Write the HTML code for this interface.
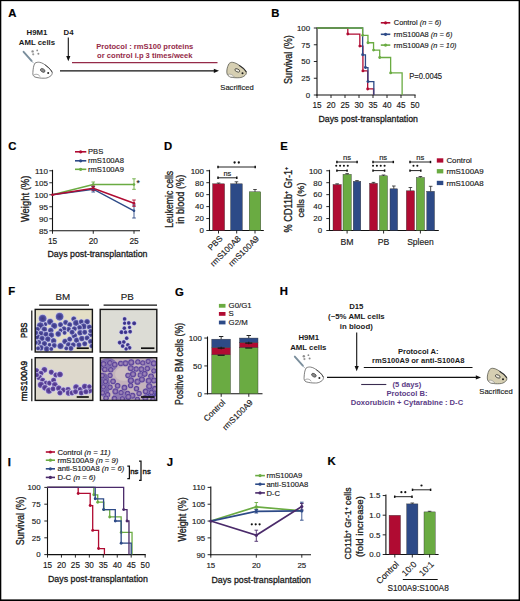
<!DOCTYPE html>
<html><head><meta charset="utf-8"><style>
html,body{margin:0;padding:0;background:#fff;}
svg{display:block;font-family:"Liberation Sans", sans-serif;}
</style></head><body>
<svg width="520" height="601" viewBox="0 0 520 601" fill="#1a1a1a">
<rect width="520" height="601" fill="#fff"/>
<text x="8.30" y="16.90" font-size="11.3" font-weight="bold" fill="#000" stroke="#000" stroke-width="0.2">A</text>
<text x="37.00" y="35.20" font-size="7.8" text-anchor="middle" font-weight="bold" fill="#1a1a1a">H9M1</text>
<text x="37.00" y="45.20" font-size="7.8" text-anchor="middle" font-weight="bold" fill="#1a1a1a">AML cells</text>
<text x="68.60" y="35.20" font-size="7.8" text-anchor="middle" font-weight="bold" fill="#1a1a1a">D4</text>
<line x1="68.30" y1="37.50" x2="68.30" y2="56.50" stroke="#111" stroke-width="1.1"/>
<path d="M68.30,61.20 L66.20,56.00 L70.40,56.00 Z" fill="#111"/>
<line x1="72.00" y1="62.60" x2="217.50" y2="62.60" stroke="#952a48" stroke-width="1.1"/>
<text x="144.80" y="49.20" font-size="7.6" text-anchor="middle" font-weight="bold" fill="#952a48">Protocol : rmS100 proteins</text>
<text x="144.80" y="57.60" font-size="7.6" text-anchor="middle" font-weight="bold" fill="#952a48">or control i.p 3 times/week</text>
<line x1="60.00" y1="70.80" x2="214.30" y2="70.80" stroke="#111" stroke-width="1.2"/>
<path d="M219.00,70.80 L213.80,68.70 L213.80,72.90 Z" fill="#111"/>
<text x="237.00" y="89.60" font-size="7.6" text-anchor="middle" fill="#1a1a1a" stroke="#1a1a1a" stroke-width="0.15">Sacrificed</text>
<g transform="translate(18,46) scale(1.0)"><line x1="5.6" y1="5.8" x2="13.6" y2="14.8" stroke="#7a8e9c" stroke-width="1.9" stroke-linecap="round"/><line x1="13.2" y1="14.6" x2="15.6" y2="17.2" stroke="#8a98a4" stroke-width="0.7"/><circle cx="14.6" cy="5.4" r="1.2" fill="#8e8e8e"/><circle cx="19.2" cy="4.4" r="0.9" fill="#8a8a8a"/><circle cx="20.4" cy="7.7" r="1.0" fill="#8a8a8a"/><circle cx="15.2" cy="8.3" r="1.1" fill="#9a9a9a"/><path d="M16.9,17.2 C18.5,16.2 20,16.1 21.5,16.3 C24.5,16.8 27,18.5 29,20.7 C31.5,22.5 33.6,24.5 34.2,26.4 C34.5,28 33.4,29.8 31.9,30.5 C30,31.8 28,32.3 26.2,32.2 C23,32.3 19.5,31.8 16.9,31 C15.2,30.2 14.6,28.5 14.9,26.4 C15.1,23 15.5,19.5 16.9,17.2 Z" fill="#fff" stroke="#555" stroke-width="0.75"/><path d="M27,18.9 C29.5,20.3 32.5,22.8 34.2,26.4" fill="none" stroke="#444" stroke-width="0.9"/><path d="M16,29 C18,27.5 21,28.5 22,30.5" fill="none" stroke="#666" stroke-width="0.6"/><ellipse cx="24.7" cy="24.4" rx="2.5" ry="1.6" transform="rotate(30 24.7 24.4)" fill="#8a8a8a" stroke="#444" stroke-width="0.7"/><circle cx="30.2" cy="27.1" r="1.0" fill="#222"/></g>
<g transform="translate(222,58)"><path d="M6.9,5.8 C8,4.5 9.5,4.2 10.4,4.3 C13.5,4.6 16.5,6.5 19,8.7 C21.5,10.5 23.5,12 24.3,13.9 C24.6,15.3 24,16.6 23.1,17.3 C21.5,18.8 19.5,19.6 17.3,19.7 C14.5,19.9 11,19.7 8.7,19.1 C6.5,18.5 5.2,17 4.9,15 C4.6,12.5 5,9.5 6.9,5.8 Z" fill="#d6cfb2" stroke="#5a5a50" stroke-width="0.8"/><path d="M6,16.5 C8,15.5 11,16.5 12.5,19.3 L8.7,19.1 C7,18.6 6.3,17.6 6,16.5 Z" fill="#f2efe6" stroke="#777" stroke-width="0.5"/><path d="M17,7.2 C19.5,8.6 22.5,11 24.3,13.9" fill="none" stroke="#333" stroke-width="1.1"/><ellipse cx="15.3" cy="12.4" rx="2.6" ry="1.4" transform="rotate(25 15.3 12.4)" fill="#f3efe3" stroke="#3a3a34" stroke-width="0.8"/><circle cx="20.5" cy="15.3" r="1.0" fill="#1a1a1a"/></g>
<text x="271.30" y="16.90" font-size="11.3" font-weight="bold" fill="#000" stroke="#000" stroke-width="0.2">B</text>
<line x1="317.00" y1="27.40" x2="317.00" y2="95.50" stroke="#111" stroke-width="1.1"/>
<line x1="316.50" y1="95.00" x2="415.60" y2="95.00" stroke="#111" stroke-width="1.1"/>
<line x1="313.80" y1="95.00" x2="317.00" y2="95.00" stroke="#111" stroke-width="0.9"/>
<text x="310.10" y="97.80" font-size="7.9" text-anchor="end" fill="#1a1a1a" stroke="#1a1a1a" stroke-width="0.15">0</text>
<line x1="313.80" y1="78.25" x2="317.00" y2="78.25" stroke="#111" stroke-width="0.9"/>
<text x="310.10" y="81.05" font-size="7.9" text-anchor="end" fill="#1a1a1a" stroke="#1a1a1a" stroke-width="0.15">25</text>
<line x1="313.80" y1="61.50" x2="317.00" y2="61.50" stroke="#111" stroke-width="0.9"/>
<text x="310.10" y="64.30" font-size="7.9" text-anchor="end" fill="#1a1a1a" stroke="#1a1a1a" stroke-width="0.15">50</text>
<line x1="313.80" y1="44.75" x2="317.00" y2="44.75" stroke="#111" stroke-width="0.9"/>
<text x="310.10" y="47.55" font-size="7.9" text-anchor="end" fill="#1a1a1a" stroke="#1a1a1a" stroke-width="0.15">75</text>
<line x1="313.80" y1="28.00" x2="317.00" y2="28.00" stroke="#111" stroke-width="0.9"/>
<text x="310.10" y="30.80" font-size="7.9" text-anchor="end" fill="#1a1a1a" stroke="#1a1a1a" stroke-width="0.15">100</text>
<line x1="317.00" y1="95.00" x2="317.00" y2="98.00" stroke="#111" stroke-width="0.9"/>
<text x="317.00" y="108.40" font-size="8.2" text-anchor="middle" fill="#1a1a1a" stroke="#1a1a1a" stroke-width="0.15">15</text>
<line x1="331.00" y1="95.00" x2="331.00" y2="98.00" stroke="#111" stroke-width="0.9"/>
<text x="331.00" y="108.40" font-size="8.2" text-anchor="middle" fill="#1a1a1a" stroke="#1a1a1a" stroke-width="0.15">20</text>
<line x1="345.00" y1="95.00" x2="345.00" y2="98.00" stroke="#111" stroke-width="0.9"/>
<text x="345.00" y="108.40" font-size="8.2" text-anchor="middle" fill="#1a1a1a" stroke="#1a1a1a" stroke-width="0.15">25</text>
<line x1="359.00" y1="95.00" x2="359.00" y2="98.00" stroke="#111" stroke-width="0.9"/>
<text x="359.00" y="108.40" font-size="8.2" text-anchor="middle" fill="#1a1a1a" stroke="#1a1a1a" stroke-width="0.15">30</text>
<line x1="373.00" y1="95.00" x2="373.00" y2="98.00" stroke="#111" stroke-width="0.9"/>
<text x="373.00" y="108.40" font-size="8.2" text-anchor="middle" fill="#1a1a1a" stroke="#1a1a1a" stroke-width="0.15">35</text>
<line x1="387.00" y1="95.00" x2="387.00" y2="98.00" stroke="#111" stroke-width="0.9"/>
<text x="387.00" y="108.40" font-size="8.2" text-anchor="middle" fill="#1a1a1a" stroke="#1a1a1a" stroke-width="0.15">40</text>
<line x1="401.00" y1="95.00" x2="401.00" y2="98.00" stroke="#111" stroke-width="0.9"/>
<text x="401.00" y="108.40" font-size="8.2" text-anchor="middle" fill="#1a1a1a" stroke="#1a1a1a" stroke-width="0.15">45</text>
<line x1="415.00" y1="95.00" x2="415.00" y2="98.00" stroke="#111" stroke-width="0.9"/>
<text x="415.00" y="108.40" font-size="8.2" text-anchor="middle" fill="#1a1a1a" stroke="#1a1a1a" stroke-width="0.15">50</text>
<polyline points="317.00,28.00 347.80,28.00 347.80,34.03 359.84,34.03 359.84,46.09 362.92,46.09 362.92,70.88 367.68,70.88 367.68,88.97 373.56,88.97 373.56,95.00" fill="none" stroke="#b00b32" stroke-width="1.3" stroke-linejoin="miter"/>
<circle cx="347.80" cy="34.03" r="1.45" fill="#b00b32"/>
<circle cx="359.84" cy="46.09" r="1.45" fill="#b00b32"/>
<circle cx="362.92" cy="70.88" r="1.45" fill="#b00b32"/>
<circle cx="367.68" cy="88.97" r="1.45" fill="#b00b32"/>
<polyline points="317.00,28.00 362.64,28.00 362.64,54.80 365.44,54.80 365.44,67.53 367.96,67.53 367.96,81.60 373.84,81.60 373.84,95.00" fill="none" stroke="#2d4a87" stroke-width="1.3" stroke-linejoin="miter"/>
<circle cx="362.64" cy="54.80" r="1.45" fill="#2d4a87"/>
<circle cx="365.44" cy="67.53" r="1.45" fill="#2d4a87"/>
<circle cx="367.96" cy="81.60" r="1.45" fill="#2d4a87"/>
<polyline points="317.00,28.00 362.64,28.00 362.64,35.37 367.96,35.37 367.96,42.74 373.56,42.74 373.56,50.11 379.72,50.11 379.72,57.48 390.64,57.48 390.64,72.89 402.12,72.89 402.12,95.00" fill="none" stroke="#6aab42" stroke-width="1.3" stroke-linejoin="miter"/>
<circle cx="362.64" cy="35.37" r="1.45" fill="#6aab42"/>
<circle cx="367.96" cy="42.74" r="1.45" fill="#6aab42"/>
<circle cx="373.56" cy="50.11" r="1.45" fill="#6aab42"/>
<circle cx="379.72" cy="57.48" r="1.45" fill="#6aab42"/>
<circle cx="390.64" cy="72.89" r="1.45" fill="#6aab42"/>
<text x="318.50" y="121.80" font-size="9.6" fill="#1a1a1a" stroke="#1a1a1a" stroke-width="0.3" textLength="99.4" lengthAdjust="spacingAndGlyphs">Days post-transplantation</text>
<text x="291.60" y="83.90" font-size="10.6" fill="#1a1a1a" stroke="#1a1a1a" stroke-width="0.3" textLength="48.7" lengthAdjust="spacingAndGlyphs" transform="rotate(-90 291.60 83.90)">Survival (%)</text>
<line x1="380.80" y1="22.80" x2="390.30" y2="22.80" stroke="#b00b32" stroke-width="1.6"/>
<circle cx="385.55" cy="22.80" r="1.6" fill="#b00b32"/>
<text x="393.80" y="25.40" font-size="7.4" fill="#1a1a1a" stroke="#1a1a1a" stroke-width="0.15">Control <tspan font-style="italic">(n = 6)</tspan></text>
<line x1="380.80" y1="34.30" x2="390.30" y2="34.30" stroke="#2d4a87" stroke-width="1.6"/>
<circle cx="385.55" cy="34.30" r="1.6" fill="#2d4a87"/>
<text x="393.80" y="36.90" font-size="7.4" fill="#1a1a1a" stroke="#1a1a1a" stroke-width="0.15">rmS100A8 <tspan font-style="italic">(n = 6)</tspan></text>
<line x1="380.80" y1="45.10" x2="390.30" y2="45.10" stroke="#6aab42" stroke-width="1.6"/>
<circle cx="385.55" cy="45.10" r="1.6" fill="#6aab42"/>
<text x="393.80" y="47.70" font-size="7.4" fill="#1a1a1a" stroke="#1a1a1a" stroke-width="0.15">rmS100A9 <tspan font-style="italic">(n = 10)</tspan></text>
<text x="409.30" y="79.40" font-size="8.4" fill="#1a1a1a" stroke="#1a1a1a" stroke-width="0.15" textLength="32.8" lengthAdjust="spacingAndGlyphs">P=0.0045</text>
<text x="8.30" y="149.60" font-size="11.3" font-weight="bold" fill="#000" stroke="#000" stroke-width="0.2">C</text>
<line x1="52.50" y1="169.80" x2="52.50" y2="231.25" stroke="#111" stroke-width="1.1"/>
<line x1="52.00" y1="230.75" x2="140.00" y2="230.75" stroke="#111" stroke-width="1.1"/>
<line x1="49.30" y1="230.75" x2="52.50" y2="230.75" stroke="#111" stroke-width="0.9"/>
<text x="47.90" y="233.65" font-size="8.1" text-anchor="end" fill="#1a1a1a" stroke="#1a1a1a" stroke-width="0.15">85</text>
<line x1="49.30" y1="218.75" x2="52.50" y2="218.75" stroke="#111" stroke-width="0.9"/>
<text x="47.90" y="221.65" font-size="8.1" text-anchor="end" fill="#1a1a1a" stroke="#1a1a1a" stroke-width="0.15">90</text>
<line x1="49.30" y1="206.75" x2="52.50" y2="206.75" stroke="#111" stroke-width="0.9"/>
<text x="47.90" y="209.65" font-size="8.1" text-anchor="end" fill="#1a1a1a" stroke="#1a1a1a" stroke-width="0.15">95</text>
<line x1="49.30" y1="194.75" x2="52.50" y2="194.75" stroke="#111" stroke-width="0.9"/>
<text x="47.90" y="197.65" font-size="8.1" text-anchor="end" fill="#1a1a1a" stroke="#1a1a1a" stroke-width="0.15">100</text>
<line x1="49.30" y1="182.75" x2="52.50" y2="182.75" stroke="#111" stroke-width="0.9"/>
<text x="47.90" y="185.65" font-size="8.1" text-anchor="end" fill="#1a1a1a" stroke="#1a1a1a" stroke-width="0.15">105</text>
<line x1="49.30" y1="170.75" x2="52.50" y2="170.75" stroke="#111" stroke-width="0.9"/>
<text x="47.90" y="173.65" font-size="8.1" text-anchor="end" fill="#1a1a1a" stroke="#1a1a1a" stroke-width="0.15">110</text>
<line x1="52.50" y1="230.75" x2="52.50" y2="233.75" stroke="#111" stroke-width="0.9"/>
<text x="52.50" y="243.80" font-size="8.3" text-anchor="middle" fill="#1a1a1a" stroke="#1a1a1a" stroke-width="0.15">15</text>
<line x1="93.25" y1="230.75" x2="93.25" y2="233.75" stroke="#111" stroke-width="0.9"/>
<text x="93.25" y="243.80" font-size="8.3" text-anchor="middle" fill="#1a1a1a" stroke="#1a1a1a" stroke-width="0.15">20</text>
<line x1="134.00" y1="230.75" x2="134.00" y2="233.75" stroke="#111" stroke-width="0.9"/>
<text x="134.00" y="243.80" font-size="8.3" text-anchor="middle" fill="#1a1a1a" stroke="#1a1a1a" stroke-width="0.15">25</text>
<text x="47.50" y="257.30" font-size="9.6" fill="#1a1a1a" stroke="#1a1a1a" stroke-width="0.3" textLength="100" lengthAdjust="spacingAndGlyphs">Days post-transplantation</text>
<text x="29.20" y="222.10" font-size="10.6" fill="#1a1a1a" stroke="#1a1a1a" stroke-width="0.3" textLength="46.4" lengthAdjust="spacingAndGlyphs" transform="rotate(-90 29.20 222.10)">Weight (%)</text>
<polyline points="52.50,194.75 93.25,184.50 134.00,184.50" fill="none" stroke="#6aab42" stroke-width="1.5" stroke-linejoin="miter"/>
<line x1="134.00" y1="178.80" x2="134.00" y2="189.30" stroke="#6aab42" stroke-width="0.9"/>
<line x1="132.20" y1="178.80" x2="135.80" y2="178.80" stroke="#6aab42" stroke-width="0.9"/>
<line x1="132.20" y1="189.30" x2="135.80" y2="189.30" stroke="#6aab42" stroke-width="0.9"/>
<line x1="93.25" y1="182.00" x2="93.25" y2="187.00" stroke="#6aab42" stroke-width="0.9"/>
<line x1="91.45" y1="182.00" x2="95.05" y2="182.00" stroke="#6aab42" stroke-width="0.9"/>
<line x1="91.45" y1="187.00" x2="95.05" y2="187.00" stroke="#6aab42" stroke-width="0.9"/>
<polyline points="52.50,194.75 93.25,189.20 134.00,210.80" fill="none" stroke="#2d4a87" stroke-width="1.5" stroke-linejoin="miter"/>
<line x1="134.00" y1="205.00" x2="134.00" y2="218.00" stroke="#2d4a87" stroke-width="0.9"/>
<line x1="132.20" y1="205.00" x2="135.80" y2="205.00" stroke="#2d4a87" stroke-width="0.9"/>
<line x1="132.20" y1="218.00" x2="135.80" y2="218.00" stroke="#2d4a87" stroke-width="0.9"/>
<line x1="93.25" y1="186.50" x2="93.25" y2="192.00" stroke="#2d4a87" stroke-width="0.9"/>
<line x1="91.45" y1="186.50" x2="95.05" y2="186.50" stroke="#2d4a87" stroke-width="0.9"/>
<line x1="91.45" y1="192.00" x2="95.05" y2="192.00" stroke="#2d4a87" stroke-width="0.9"/>
<polyline points="52.50,194.75 93.25,188.20 134.00,203.20" fill="none" stroke="#b00b32" stroke-width="1.6" stroke-linejoin="miter"/>
<line x1="134.00" y1="200.00" x2="134.00" y2="206.30" stroke="#b00b32" stroke-width="0.9"/>
<line x1="132.20" y1="200.00" x2="135.80" y2="200.00" stroke="#b00b32" stroke-width="0.9"/>
<line x1="132.20" y1="206.30" x2="135.80" y2="206.30" stroke="#b00b32" stroke-width="0.9"/>
<line x1="93.25" y1="186.00" x2="93.25" y2="190.50" stroke="#b00b32" stroke-width="0.9"/>
<line x1="91.45" y1="186.00" x2="95.05" y2="186.00" stroke="#b00b32" stroke-width="0.9"/>
<line x1="91.45" y1="190.50" x2="95.05" y2="190.50" stroke="#b00b32" stroke-width="0.9"/>
<circle cx="52.50" cy="194.75" r="1.3" fill="#b00b32"/>
<circle cx="93.25" cy="184.50" r="1.3" fill="#6aab42"/>
<circle cx="134.00" cy="184.50" r="1.3" fill="#6aab42"/>
<circle cx="93.25" cy="189.20" r="1.3" fill="#2d4a87"/>
<circle cx="134.00" cy="210.80" r="1.3" fill="#2d4a87"/>
<circle cx="93.25" cy="188.20" r="1.3" fill="#b00b32"/>
<circle cx="134.00" cy="203.20" r="1.3" fill="#b00b32"/>
<text x="136.40" y="185.60" font-size="8.4" fill="#1a1a1a" stroke="#1a1a1a" stroke-width="0.15">*</text>
<line x1="75.00" y1="151.80" x2="86.30" y2="151.80" stroke="#b00b32" stroke-width="1.6"/>
<circle cx="80.65" cy="151.80" r="1.6" fill="#b00b32"/>
<text x="88.00" y="154.40" font-size="7.6" fill="#1a1a1a" stroke="#1a1a1a" stroke-width="0.15">PBS</text>
<line x1="75.00" y1="160.80" x2="86.30" y2="160.80" stroke="#2d4a87" stroke-width="1.6"/>
<circle cx="80.65" cy="160.80" r="1.6" fill="#2d4a87"/>
<text x="88.00" y="163.40" font-size="7.6" fill="#1a1a1a" stroke="#1a1a1a" stroke-width="0.15">rmS100A8</text>
<line x1="75.00" y1="169.30" x2="86.30" y2="169.30" stroke="#6aab42" stroke-width="1.6"/>
<circle cx="80.65" cy="169.30" r="1.6" fill="#6aab42"/>
<text x="88.00" y="171.90" font-size="7.6" fill="#1a1a1a" stroke="#1a1a1a" stroke-width="0.15">rmS100A9</text>
<text x="164.10" y="149.60" font-size="11.3" font-weight="bold" fill="#000" stroke="#000" stroke-width="0.2">D</text>
<line x1="209.50" y1="169.80" x2="209.50" y2="231.00" stroke="#111" stroke-width="1.1"/>
<line x1="209.00" y1="230.50" x2="263.80" y2="230.50" stroke="#111" stroke-width="1.1"/>
<line x1="206.30" y1="230.50" x2="209.50" y2="230.50" stroke="#111" stroke-width="0.9"/>
<text x="203.90" y="233.30" font-size="7.9" text-anchor="end" fill="#1a1a1a" stroke="#1a1a1a" stroke-width="0.15">0</text>
<line x1="206.30" y1="218.55" x2="209.50" y2="218.55" stroke="#111" stroke-width="0.9"/>
<text x="203.90" y="221.35" font-size="7.9" text-anchor="end" fill="#1a1a1a" stroke="#1a1a1a" stroke-width="0.15">20</text>
<line x1="206.30" y1="206.60" x2="209.50" y2="206.60" stroke="#111" stroke-width="0.9"/>
<text x="203.90" y="209.40" font-size="7.9" text-anchor="end" fill="#1a1a1a" stroke="#1a1a1a" stroke-width="0.15">40</text>
<line x1="206.30" y1="194.65" x2="209.50" y2="194.65" stroke="#111" stroke-width="0.9"/>
<text x="203.90" y="197.45" font-size="7.9" text-anchor="end" fill="#1a1a1a" stroke="#1a1a1a" stroke-width="0.15">60</text>
<line x1="206.30" y1="182.70" x2="209.50" y2="182.70" stroke="#111" stroke-width="0.9"/>
<text x="203.90" y="185.50" font-size="7.9" text-anchor="end" fill="#1a1a1a" stroke="#1a1a1a" stroke-width="0.15">80</text>
<line x1="206.30" y1="170.75" x2="209.50" y2="170.75" stroke="#111" stroke-width="0.9"/>
<text x="203.90" y="173.55" font-size="7.9" text-anchor="end" fill="#1a1a1a" stroke="#1a1a1a" stroke-width="0.15">100</text>
<rect x="212.60" y="183.80" width="12.00" height="46.70" fill="#b00b32" stroke="#333" stroke-width="0.4"/>
<line x1="218.60" y1="183.00" x2="218.60" y2="183.80" stroke="#222" stroke-width="0.8"/>
<line x1="216.80" y1="183.00" x2="220.40" y2="183.00" stroke="#222" stroke-width="0.8"/>
<rect x="230.60" y="183.80" width="11.70" height="46.70" fill="#2d4a87" stroke="#333" stroke-width="0.4"/>
<line x1="236.45" y1="181.80" x2="236.45" y2="183.80" stroke="#222" stroke-width="0.8"/>
<line x1="234.65" y1="181.80" x2="238.25" y2="181.80" stroke="#222" stroke-width="0.8"/>
<rect x="249.20" y="191.80" width="11.60" height="38.70" fill="#6aab42" stroke="#333" stroke-width="0.4"/>
<line x1="255.00" y1="189.50" x2="255.00" y2="191.80" stroke="#222" stroke-width="0.8"/>
<line x1="253.20" y1="189.50" x2="256.80" y2="189.50" stroke="#222" stroke-width="0.8"/>
<line x1="218.50" y1="230.50" x2="218.50" y2="233.50" stroke="#111" stroke-width="0.9"/>
<line x1="236.70" y1="230.50" x2="236.70" y2="233.50" stroke="#111" stroke-width="0.9"/>
<line x1="255.00" y1="230.50" x2="255.00" y2="233.50" stroke="#111" stroke-width="0.9"/>
<line x1="218.00" y1="167.00" x2="255.20" y2="167.00" stroke="#222" stroke-width="1.0"/>
<line x1="218.00" y1="165.80" x2="218.00" y2="168.20" stroke="#111" stroke-width="1.5"/>
<line x1="255.20" y1="165.80" x2="255.20" y2="168.20" stroke="#111" stroke-width="1.5"/>
<circle cx="234.60" cy="162.50" r="1.15" fill="#111"/>
<circle cx="238.80" cy="162.50" r="1.15" fill="#111"/>
<line x1="218.00" y1="177.80" x2="236.80" y2="177.80" stroke="#222" stroke-width="1.0"/>
<line x1="218.00" y1="176.60" x2="218.00" y2="179.00" stroke="#111" stroke-width="1.5"/>
<line x1="236.80" y1="176.60" x2="236.80" y2="179.00" stroke="#111" stroke-width="1.5"/>
<text x="227.40" y="176.30" font-size="7.4" text-anchor="middle" fill="#1a1a1a" stroke="#1a1a1a" stroke-width="0.15">ns</text>
<text x="223.10" y="239.20" font-size="8.3" text-anchor="end" fill="#1a1a1a" stroke="#1a1a1a" stroke-width="0.15" transform="rotate(-45 223.10 239.20)">PBS</text>
<text x="241.30" y="239.20" font-size="8.3" text-anchor="end" fill="#1a1a1a" stroke="#1a1a1a" stroke-width="0.15" transform="rotate(-45 241.30 239.20)">rmS100A8</text>
<text x="259.60" y="239.20" font-size="8.3" text-anchor="end" fill="#1a1a1a" stroke="#1a1a1a" stroke-width="0.15" transform="rotate(-45 259.60 239.20)">rmS100A9</text>
<text x="173.30" y="199.30" font-size="10.5" text-anchor="middle" fill="#1a1a1a" stroke="#1a1a1a" stroke-width="0.3" textLength="57" lengthAdjust="spacingAndGlyphs" transform="rotate(-90 173.30 199.30)">Leukemic cells</text>
<text x="183.60" y="199.20" font-size="10.3" text-anchor="middle" fill="#1a1a1a" stroke="#1a1a1a" stroke-width="0.3" textLength="49" lengthAdjust="spacingAndGlyphs" transform="rotate(-90 183.60 199.20)">in blood (%)</text>
<text x="280.30" y="149.60" font-size="11.3" font-weight="bold" fill="#000" stroke="#000" stroke-width="0.2">E</text>
<line x1="329.50" y1="169.80" x2="329.50" y2="231.00" stroke="#111" stroke-width="1.1"/>
<line x1="329.00" y1="230.50" x2="438.80" y2="230.50" stroke="#111" stroke-width="1.1"/>
<line x1="326.30" y1="230.50" x2="329.50" y2="230.50" stroke="#111" stroke-width="0.9"/>
<text x="322.10" y="233.30" font-size="7.9" text-anchor="end" fill="#1a1a1a" stroke="#1a1a1a" stroke-width="0.15">0</text>
<line x1="326.30" y1="218.55" x2="329.50" y2="218.55" stroke="#111" stroke-width="0.9"/>
<text x="322.10" y="221.35" font-size="7.9" text-anchor="end" fill="#1a1a1a" stroke="#1a1a1a" stroke-width="0.15">20</text>
<line x1="326.30" y1="206.60" x2="329.50" y2="206.60" stroke="#111" stroke-width="0.9"/>
<text x="322.10" y="209.40" font-size="7.9" text-anchor="end" fill="#1a1a1a" stroke="#1a1a1a" stroke-width="0.15">40</text>
<line x1="326.30" y1="194.65" x2="329.50" y2="194.65" stroke="#111" stroke-width="0.9"/>
<text x="322.10" y="197.45" font-size="7.9" text-anchor="end" fill="#1a1a1a" stroke="#1a1a1a" stroke-width="0.15">60</text>
<line x1="326.30" y1="182.70" x2="329.50" y2="182.70" stroke="#111" stroke-width="0.9"/>
<text x="322.10" y="185.50" font-size="7.9" text-anchor="end" fill="#1a1a1a" stroke="#1a1a1a" stroke-width="0.15">80</text>
<line x1="326.30" y1="170.75" x2="329.50" y2="170.75" stroke="#111" stroke-width="0.9"/>
<text x="322.10" y="173.55" font-size="7.9" text-anchor="end" fill="#1a1a1a" stroke="#1a1a1a" stroke-width="0.15">100</text>
<rect x="333.00" y="184.50" width="8.30" height="46.00" fill="#b00b32" stroke="#333" stroke-width="0.4"/>
<line x1="337.15" y1="183.80" x2="337.15" y2="184.50" stroke="#222" stroke-width="0.8"/>
<line x1="335.35" y1="183.80" x2="338.95" y2="183.80" stroke="#222" stroke-width="0.8"/>
<rect x="343.00" y="174.30" width="8.30" height="56.20" fill="#6aab42" stroke="#333" stroke-width="0.4"/>
<line x1="347.15" y1="173.60" x2="347.15" y2="174.30" stroke="#222" stroke-width="0.8"/>
<line x1="345.35" y1="173.60" x2="348.95" y2="173.60" stroke="#222" stroke-width="0.8"/>
<rect x="353.20" y="181.30" width="7.60" height="49.20" fill="#2d4a87" stroke="#333" stroke-width="0.4"/>
<line x1="357.00" y1="180.60" x2="357.00" y2="181.30" stroke="#222" stroke-width="0.8"/>
<line x1="355.20" y1="180.60" x2="358.80" y2="180.60" stroke="#222" stroke-width="0.8"/>
<rect x="369.50" y="183.30" width="8.00" height="47.20" fill="#b00b32" stroke="#333" stroke-width="0.4"/>
<line x1="373.50" y1="182.40" x2="373.50" y2="183.30" stroke="#222" stroke-width="0.8"/>
<line x1="371.70" y1="182.40" x2="375.30" y2="182.40" stroke="#222" stroke-width="0.8"/>
<rect x="379.50" y="175.80" width="8.00" height="54.70" fill="#6aab42" stroke="#333" stroke-width="0.4"/>
<line x1="383.50" y1="175.00" x2="383.50" y2="175.80" stroke="#222" stroke-width="0.8"/>
<line x1="381.70" y1="175.00" x2="385.30" y2="175.00" stroke="#222" stroke-width="0.8"/>
<rect x="390.00" y="188.80" width="7.60" height="41.70" fill="#2d4a87" stroke="#333" stroke-width="0.4"/>
<line x1="393.80" y1="186.00" x2="393.80" y2="188.80" stroke="#222" stroke-width="0.8"/>
<line x1="392.00" y1="186.00" x2="395.60" y2="186.00" stroke="#222" stroke-width="0.8"/>
<rect x="406.30" y="190.80" width="8.20" height="39.70" fill="#b00b32" stroke="#333" stroke-width="0.4"/>
<line x1="410.40" y1="187.50" x2="410.40" y2="190.80" stroke="#222" stroke-width="0.8"/>
<line x1="408.60" y1="187.50" x2="412.20" y2="187.50" stroke="#222" stroke-width="0.8"/>
<rect x="416.30" y="177.50" width="8.20" height="53.00" fill="#6aab42" stroke="#333" stroke-width="0.4"/>
<line x1="420.40" y1="176.50" x2="420.40" y2="177.50" stroke="#222" stroke-width="0.8"/>
<line x1="418.60" y1="176.50" x2="422.20" y2="176.50" stroke="#222" stroke-width="0.8"/>
<rect x="426.80" y="191.30" width="7.70" height="39.20" fill="#2d4a87" stroke="#333" stroke-width="0.4"/>
<line x1="430.65" y1="186.30" x2="430.65" y2="191.30" stroke="#222" stroke-width="0.8"/>
<line x1="428.85" y1="186.30" x2="432.45" y2="186.30" stroke="#222" stroke-width="0.8"/>
<line x1="347.10" y1="230.50" x2="347.10" y2="233.50" stroke="#111" stroke-width="0.9"/>
<line x1="383.60" y1="230.50" x2="383.60" y2="233.50" stroke="#111" stroke-width="0.9"/>
<line x1="420.40" y1="230.50" x2="420.40" y2="233.50" stroke="#111" stroke-width="0.9"/>
<text x="347.10" y="244.60" font-size="8.7" text-anchor="middle" fill="#1a1a1a" stroke="#1a1a1a" stroke-width="0.15">BM</text>
<text x="383.60" y="244.60" font-size="8.7" text-anchor="middle" fill="#1a1a1a" stroke="#1a1a1a" stroke-width="0.15">PB</text>
<text x="420.40" y="244.60" font-size="8.5" text-anchor="middle" fill="#1a1a1a" stroke="#1a1a1a" stroke-width="0.15">Spleen</text>
<line x1="336.90" y1="162.00" x2="357.10" y2="162.00" stroke="#222" stroke-width="1.0"/>
<line x1="336.90" y1="160.80" x2="336.90" y2="163.20" stroke="#111" stroke-width="1.5"/>
<line x1="357.10" y1="160.80" x2="357.10" y2="163.20" stroke="#111" stroke-width="1.5"/>
<text x="347.00" y="160.20" font-size="7.6" text-anchor="middle" fill="#1a1a1a" stroke="#1a1a1a" stroke-width="0.15">ns</text>
<line x1="336.90" y1="170.60" x2="347.10" y2="170.60" stroke="#222" stroke-width="1.0"/>
<line x1="336.90" y1="169.40" x2="336.90" y2="171.80" stroke="#111" stroke-width="1.5"/>
<line x1="347.10" y1="169.40" x2="347.10" y2="171.80" stroke="#111" stroke-width="1.5"/>
<circle cx="336.23" cy="165.70" r="1.05" fill="#111"/>
<circle cx="340.08" cy="165.70" r="1.05" fill="#111"/>
<circle cx="343.93" cy="165.70" r="1.05" fill="#111"/>
<circle cx="347.78" cy="165.70" r="1.05" fill="#111"/>
<line x1="373.00" y1="162.00" x2="393.30" y2="162.00" stroke="#222" stroke-width="1.0"/>
<line x1="373.00" y1="160.80" x2="373.00" y2="163.20" stroke="#111" stroke-width="1.5"/>
<line x1="393.30" y1="160.80" x2="393.30" y2="163.20" stroke="#111" stroke-width="1.5"/>
<text x="383.15" y="160.20" font-size="7.6" text-anchor="middle" fill="#1a1a1a" stroke="#1a1a1a" stroke-width="0.15">ns</text>
<line x1="373.00" y1="170.60" x2="384.60" y2="170.60" stroke="#222" stroke-width="1.0"/>
<line x1="373.00" y1="169.40" x2="373.00" y2="171.80" stroke="#111" stroke-width="1.5"/>
<line x1="384.60" y1="169.40" x2="384.60" y2="171.80" stroke="#111" stroke-width="1.5"/>
<circle cx="373.03" cy="165.70" r="1.05" fill="#111"/>
<circle cx="376.88" cy="165.70" r="1.05" fill="#111"/>
<circle cx="380.73" cy="165.70" r="1.05" fill="#111"/>
<circle cx="384.58" cy="165.70" r="1.05" fill="#111"/>
<line x1="410.00" y1="162.00" x2="430.50" y2="162.00" stroke="#222" stroke-width="1.0"/>
<line x1="410.00" y1="160.80" x2="410.00" y2="163.20" stroke="#111" stroke-width="1.5"/>
<line x1="430.50" y1="160.80" x2="430.50" y2="163.20" stroke="#111" stroke-width="1.5"/>
<text x="420.25" y="160.20" font-size="7.6" text-anchor="middle" fill="#1a1a1a" stroke="#1a1a1a" stroke-width="0.15">ns</text>
<line x1="410.00" y1="170.60" x2="420.80" y2="170.60" stroke="#222" stroke-width="1.0"/>
<line x1="410.00" y1="169.40" x2="410.00" y2="171.80" stroke="#111" stroke-width="1.5"/>
<line x1="420.80" y1="169.40" x2="420.80" y2="171.80" stroke="#111" stroke-width="1.5"/>
<circle cx="413.47" cy="165.70" r="1.05" fill="#111"/>
<circle cx="417.32" cy="165.70" r="1.05" fill="#111"/>
<rect x="436.80" y="158.30" width="6.50" height="4.30" fill="#b00b32"/>
<text x="446.40" y="163.00" font-size="7.9" fill="#1a1a1a" stroke="#1a1a1a" stroke-width="0.15">Control</text>
<rect x="436.80" y="169.10" width="6.50" height="4.30" fill="#6aab42"/>
<text x="446.40" y="173.80" font-size="7.9" fill="#1a1a1a" stroke="#1a1a1a" stroke-width="0.15">rmS100A9</text>
<rect x="436.80" y="180.80" width="6.50" height="4.30" fill="#2d4a87"/>
<text x="446.40" y="185.50" font-size="7.9" fill="#1a1a1a" stroke="#1a1a1a" stroke-width="0.15">rmS100A8</text>
<g transform="translate(291.6,199.6) rotate(-90) scale(0.917,1)"><text x="0" y="0" font-size="10.0" text-anchor="middle" fill="#1a1a1a" stroke="#1a1a1a" stroke-width="0.3">% CD11b<tspan font-size="5.8" dy="-3.4">+</tspan><tspan dy="3.4"> Gr-1</tspan><tspan font-size="5.8" dy="-3.4">+</tspan></text></g>
<text x="304.00" y="200.00" font-size="9.8" text-anchor="middle" fill="#1a1a1a" stroke="#1a1a1a" stroke-width="0.3" textLength="35" lengthAdjust="spacingAndGlyphs" transform="rotate(-90 304.00 200.00)">cells (%)</text>
<text x="8.30" y="295.20" font-size="11.3" font-weight="bold" fill="#000" stroke="#000" stroke-width="0.2">F</text>
<text x="62.90" y="300.30" font-size="9.8" text-anchor="middle" fill="#1a1a1a" stroke="#1a1a1a" stroke-width="0.15">BM</text>
<text x="127.30" y="300.30" font-size="9.8" text-anchor="middle" fill="#1a1a1a" stroke="#1a1a1a" stroke-width="0.15">PB</text>
<line x1="39.20" y1="305.20" x2="89.00" y2="305.20" stroke="#111" stroke-width="1.2"/>
<line x1="103.60" y1="305.20" x2="157.00" y2="305.20" stroke="#111" stroke-width="1.2"/>
<line x1="31.80" y1="310.50" x2="31.80" y2="350.50" stroke="#111" stroke-width="1.2"/>
<line x1="31.80" y1="358.80" x2="31.80" y2="401.20" stroke="#111" stroke-width="1.2"/>
<text x="26.60" y="330.20" font-size="9.4" text-anchor="middle" fill="#1a1a1a" stroke="#1a1a1a" stroke-width="0.45" textLength="15.4" lengthAdjust="spacingAndGlyphs" transform="rotate(-90 26.60 330.20)">PBS</text>
<text x="27.00" y="381.00" font-size="9.4" text-anchor="middle" fill="#1a1a1a" stroke="#1a1a1a" stroke-width="0.45" textLength="40.5" lengthAdjust="spacingAndGlyphs" transform="rotate(-90 27.00 381.00)">rmS100A9</text>
<defs>
<radialGradient id="cA" cx="50%" cy="50%" r="50%"><stop offset="0" stop-color="#3c3884"/><stop offset="0.55" stop-color="#4a4898"/><stop offset="0.85" stop-color="#6868b4"/><stop offset="1" stop-color="#a8a8da"/></radialGradient>
<radialGradient id="cB" cx="50%" cy="50%" r="50%"><stop offset="0" stop-color="#352c80"/><stop offset="0.55" stop-color="#433a92"/><stop offset="0.85" stop-color="#5c54aa"/><stop offset="1" stop-color="#a4a0d4"/></radialGradient>
<radialGradient id="cC" cx="50%" cy="50%" r="50%"><stop offset="0" stop-color="#4e3488"/><stop offset="0.55" stop-color="#5c449c"/><stop offset="0.85" stop-color="#7862b4"/><stop offset="1" stop-color="#bcaee0"/></radialGradient>
<radialGradient id="cD" cx="50%" cy="50%" r="50%"><stop offset="0" stop-color="#a894bc"/><stop offset="0.4" stop-color="#8a70b0"/><stop offset="0.75" stop-color="#5a4298"/><stop offset="1" stop-color="#8c78b4"/></radialGradient>
<radialGradient id="cE" cx="50%" cy="50%" r="50%"><stop offset="0" stop-color="#5a44a0"/><stop offset="0.8" stop-color="#6a56a8"/><stop offset="1" stop-color="#9c8cc0"/></radialGradient>
</defs>
<clipPath id="c35309"><rect x="35.2" y="309.4" width="57.2" height="42.60000000000002"/></clipPath>
<g clip-path="url(#c35309)"><rect x="35.2" y="309.4" width="57.2" height="42.60000000000002" fill="#e4dfc6"/><circle cx="42.65" cy="318.61" r="4.30" fill="url(#cA)" stroke="#d6d6f0" stroke-width="0.45"/><circle cx="59.61" cy="316.65" r="4.30" fill="url(#cA)" stroke="#d6d6f0" stroke-width="0.45"/><circle cx="73.79" cy="318.96" r="2.87" fill="url(#cA)" stroke="#d6d6f0" stroke-width="0.45"/><circle cx="45.53" cy="324.15" r="2.39" fill="url(#cA)" stroke="#d6d6f0" stroke-width="0.45"/><circle cx="50.15" cy="321.84" r="3.50" fill="url(#cA)" stroke="#d6d6f0" stroke-width="0.45"/><circle cx="54.18" cy="325.88" r="3.50" fill="url(#cA)" stroke="#d6d6f0" stroke-width="0.45"/><circle cx="40.34" cy="325.88" r="3.98" fill="url(#cA)" stroke="#d6d6f0" stroke-width="0.45"/><circle cx="37.46" cy="329.34" r="2.87" fill="url(#cA)" stroke="#d6d6f0" stroke-width="0.45"/><circle cx="44.38" cy="329.34" r="3.18" fill="url(#cA)" stroke="#d6d6f0" stroke-width="0.45"/><circle cx="50.72" cy="330.49" r="3.18" fill="url(#cA)" stroke="#d6d6f0" stroke-width="0.45"/><circle cx="60.53" cy="324.72" r="2.87" fill="url(#cA)" stroke="#d6d6f0" stroke-width="0.45"/><circle cx="65.72" cy="322.42" r="2.87" fill="url(#cA)" stroke="#d6d6f0" stroke-width="0.45"/><circle cx="69.76" cy="324.72" r="2.87" fill="url(#cA)" stroke="#d6d6f0" stroke-width="0.45"/><circle cx="76.10" cy="322.99" r="3.50" fill="url(#cA)" stroke="#d6d6f0" stroke-width="0.45"/><circle cx="81.29" cy="321.84" r="2.87" fill="url(#cA)" stroke="#d6d6f0" stroke-width="0.45"/><circle cx="87.06" cy="321.84" r="3.18" fill="url(#cA)" stroke="#d6d6f0" stroke-width="0.45"/><circle cx="83.60" cy="326.45" r="3.50" fill="url(#cA)" stroke="#d6d6f0" stroke-width="0.45"/><circle cx="89.36" cy="327.03" r="2.87" fill="url(#cA)" stroke="#d6d6f0" stroke-width="0.45"/><circle cx="79.56" cy="327.61" r="2.87" fill="url(#cA)" stroke="#d6d6f0" stroke-width="0.45"/><circle cx="74.37" cy="328.76" r="2.87" fill="url(#cA)" stroke="#d6d6f0" stroke-width="0.45"/><circle cx="68.60" cy="329.34" r="2.87" fill="url(#cA)" stroke="#d6d6f0" stroke-width="0.45"/><circle cx="63.99" cy="328.76" r="2.87" fill="url(#cA)" stroke="#d6d6f0" stroke-width="0.45"/><circle cx="60.53" cy="330.49" r="2.39" fill="url(#cA)" stroke="#d6d6f0" stroke-width="0.45"/><circle cx="58.22" cy="333.95" r="3.18" fill="url(#cA)" stroke="#d6d6f0" stroke-width="0.45"/><circle cx="64.57" cy="332.80" r="2.39" fill="url(#cA)" stroke="#d6d6f0" stroke-width="0.45"/><circle cx="40.92" cy="333.95" r="3.50" fill="url(#cA)" stroke="#d6d6f0" stroke-width="0.45"/><circle cx="46.11" cy="334.53" r="3.18" fill="url(#cA)" stroke="#d6d6f0" stroke-width="0.45"/><circle cx="51.30" cy="335.10" r="3.18" fill="url(#cA)" stroke="#d6d6f0" stroke-width="0.45"/><circle cx="37.46" cy="336.84" r="3.18" fill="url(#cA)" stroke="#d6d6f0" stroke-width="0.45"/><circle cx="42.07" cy="338.57" r="3.18" fill="url(#cA)" stroke="#d6d6f0" stroke-width="0.45"/><circle cx="47.84" cy="339.14" r="3.18" fill="url(#cA)" stroke="#d6d6f0" stroke-width="0.45"/><circle cx="53.61" cy="340.87" r="3.18" fill="url(#cA)" stroke="#d6d6f0" stroke-width="0.45"/><circle cx="38.61" cy="342.60" r="3.18" fill="url(#cA)" stroke="#d6d6f0" stroke-width="0.45"/><circle cx="44.38" cy="343.76" r="3.18" fill="url(#cA)" stroke="#d6d6f0" stroke-width="0.45"/><circle cx="49.57" cy="344.91" r="2.39" fill="url(#cA)" stroke="#d6d6f0" stroke-width="0.45"/><circle cx="54.18" cy="345.49" r="2.87" fill="url(#cA)" stroke="#d6d6f0" stroke-width="0.45"/><circle cx="60.53" cy="346.06" r="3.50" fill="url(#cA)" stroke="#d6d6f0" stroke-width="0.45"/><circle cx="40.92" cy="347.79" r="3.18" fill="url(#cA)" stroke="#d6d6f0" stroke-width="0.45"/><circle cx="46.69" cy="348.95" r="3.18" fill="url(#cA)" stroke="#d6d6f0" stroke-width="0.45"/><circle cx="51.30" cy="348.95" r="2.39" fill="url(#cA)" stroke="#d6d6f0" stroke-width="0.45"/><circle cx="65.14" cy="341.45" r="3.18" fill="url(#cA)" stroke="#d6d6f0" stroke-width="0.45"/><circle cx="69.76" cy="339.14" r="2.87" fill="url(#cA)" stroke="#d6d6f0" stroke-width="0.45"/><circle cx="74.37" cy="335.68" r="3.18" fill="url(#cA)" stroke="#d6d6f0" stroke-width="0.45"/><circle cx="80.14" cy="332.80" r="3.18" fill="url(#cA)" stroke="#d6d6f0" stroke-width="0.45"/><circle cx="84.75" cy="332.22" r="2.87" fill="url(#cA)" stroke="#d6d6f0" stroke-width="0.45"/><circle cx="90.52" cy="334.53" r="2.87" fill="url(#cA)" stroke="#d6d6f0" stroke-width="0.45"/><circle cx="72.06" cy="332.22" r="2.87" fill="url(#cA)" stroke="#d6d6f0" stroke-width="0.45"/><circle cx="76.68" cy="340.30" r="3.18" fill="url(#cA)" stroke="#d6d6f0" stroke-width="0.45"/><circle cx="81.87" cy="338.57" r="3.18" fill="url(#cA)" stroke="#d6d6f0" stroke-width="0.45"/><circle cx="87.06" cy="337.99" r="2.87" fill="url(#cA)" stroke="#d6d6f0" stroke-width="0.45"/><circle cx="68.60" cy="344.91" r="3.18" fill="url(#cA)" stroke="#d6d6f0" stroke-width="0.45"/><circle cx="73.22" cy="344.91" r="2.87" fill="url(#cA)" stroke="#d6d6f0" stroke-width="0.45"/><circle cx="78.98" cy="344.91" r="2.87" fill="url(#cA)" stroke="#d6d6f0" stroke-width="0.45"/><circle cx="84.75" cy="343.76" r="2.87" fill="url(#cA)" stroke="#d6d6f0" stroke-width="0.45"/><circle cx="90.52" cy="341.45" r="2.87" fill="url(#cA)" stroke="#d6d6f0" stroke-width="0.45"/><circle cx="70.91" cy="348.37" r="2.87" fill="url(#cA)" stroke="#d6d6f0" stroke-width="0.45"/><circle cx="38.04" cy="348.37" r="2.39" fill="url(#cA)" stroke="#d6d6f0" stroke-width="0.45"/><circle cx="35.73" cy="332.80" r="2.87" fill="url(#cA)" stroke="#d6d6f0" stroke-width="0.45"/><circle cx="35.73" cy="342.60" r="2.55" fill="url(#cA)" stroke="#d6d6f0" stroke-width="0.45"/><circle cx="90.52" cy="331.07" r="2.55" fill="url(#cA)" stroke="#d6d6f0" stroke-width="0.45"/><circle cx="91.67" cy="346.06" r="2.55" fill="url(#cA)" stroke="#d6d6f0" stroke-width="0.45"/><circle cx="66.30" cy="348.37" r="2.39" fill="url(#cA)" stroke="#d6d6f0" stroke-width="0.45"/></g>
<rect x="35.2" y="309.4" width="57.2" height="42.60000000000002" fill="none" stroke="#151515" stroke-width="1.4"/>
<line x1="76.70" y1="348.20" x2="88.80" y2="348.20" stroke="#111" stroke-width="1.7"/>
<clipPath id="c100309"><rect x="100.2" y="309.4" width="56.60000000000001" height="42.60000000000002"/></clipPath>
<g clip-path="url(#c100309)"><rect x="100.2" y="309.4" width="56.60000000000001" height="42.60000000000002" fill="#dcdcd5"/><circle cx="124.61" cy="318.96" r="2.25" fill="url(#cB)" stroke="#d6d6f0" stroke-width="0.45"/><circle cx="124.61" cy="323.22" r="2.10" fill="url(#cB)" stroke="#d6d6f0" stroke-width="0.45"/><circle cx="128.76" cy="322.99" r="2.25" fill="url(#cB)" stroke="#d6d6f0" stroke-width="0.45"/><circle cx="134.18" cy="323.34" r="2.40" fill="url(#cB)" stroke="#d6d6f0" stroke-width="0.45"/><circle cx="124.37" cy="328.18" r="2.25" fill="url(#cB)" stroke="#d6d6f0" stroke-width="0.45"/><circle cx="129.57" cy="327.38" r="2.10" fill="url(#cB)" stroke="#d6d6f0" stroke-width="0.45"/><circle cx="121.49" cy="332.22" r="2.40" fill="url(#cB)" stroke="#d6d6f0" stroke-width="0.45"/><circle cx="125.53" cy="332.22" r="2.25" fill="url(#cB)" stroke="#d6d6f0" stroke-width="0.45"/><circle cx="130.14" cy="331.64" r="2.25" fill="url(#cB)" stroke="#d6d6f0" stroke-width="0.45"/><circle cx="126.68" cy="338.22" r="2.25" fill="url(#cB)" stroke="#d6d6f0" stroke-width="0.45"/><circle cx="119.76" cy="342.60" r="2.40" fill="url(#cB)" stroke="#d6d6f0" stroke-width="0.45"/><circle cx="123.80" cy="342.03" r="2.25" fill="url(#cB)" stroke="#d6d6f0" stroke-width="0.45"/><circle cx="127.84" cy="344.91" r="2.25" fill="url(#cB)" stroke="#d6d6f0" stroke-width="0.45"/><circle cx="122.64" cy="346.06" r="2.25" fill="url(#cB)" stroke="#d6d6f0" stroke-width="0.45"/><circle cx="129.57" cy="347.79" r="2.25" fill="url(#cB)" stroke="#d6d6f0" stroke-width="0.45"/><circle cx="126.10" cy="348.95" r="2.10" fill="url(#cB)" stroke="#d6d6f0" stroke-width="0.45"/></g>
<rect x="100.2" y="309.4" width="56.60000000000001" height="42.60000000000002" fill="none" stroke="#151515" stroke-width="1.4"/>
<line x1="141.00" y1="348.20" x2="154.40" y2="348.20" stroke="#111" stroke-width="1.7"/>
<clipPath id="c35357"><rect x="35.2" y="357.7" width="57.599999999999994" height="42.69999999999999"/></clipPath>
<g clip-path="url(#c35357)"><rect x="35.2" y="357.7" width="57.599999999999994" height="42.69999999999999" fill="#ddd8cc"/><circle cx="36.31" cy="370.99" r="3.28" fill="url(#cC)" stroke="#d6d6f0" stroke-width="0.45"/><circle cx="44.38" cy="369.84" r="3.28" fill="url(#cC)" stroke="#d6d6f0" stroke-width="0.45"/><circle cx="40.92" cy="373.30" r="2.95" fill="url(#cC)" stroke="#d6d6f0" stroke-width="0.45"/><circle cx="51.30" cy="372.15" r="2.95" fill="url(#cC)" stroke="#d6d6f0" stroke-width="0.45"/><circle cx="55.91" cy="375.03" r="2.95" fill="url(#cC)" stroke="#d6d6f0" stroke-width="0.45"/><circle cx="59.95" cy="374.45" r="3.28" fill="url(#cC)" stroke="#d6d6f0" stroke-width="0.45"/><circle cx="39.19" cy="377.34" r="3.28" fill="url(#cC)" stroke="#d6d6f0" stroke-width="0.45"/><circle cx="42.65" cy="380.22" r="2.95" fill="url(#cC)" stroke="#d6d6f0" stroke-width="0.45"/><circle cx="46.11" cy="383.10" r="2.95" fill="url(#cC)" stroke="#d6d6f0" stroke-width="0.45"/><circle cx="40.92" cy="384.84" r="3.60" fill="url(#cC)" stroke="#d6d6f0" stroke-width="0.45"/><circle cx="49.57" cy="383.10" r="2.95" fill="url(#cC)" stroke="#d6d6f0" stroke-width="0.45"/><circle cx="53.61" cy="380.22" r="2.95" fill="url(#cC)" stroke="#d6d6f0" stroke-width="0.45"/><circle cx="54.76" cy="384.84" r="3.28" fill="url(#cC)" stroke="#d6d6f0" stroke-width="0.45"/><circle cx="44.96" cy="387.72" r="3.28" fill="url(#cC)" stroke="#d6d6f0" stroke-width="0.45"/><circle cx="48.99" cy="390.60" r="3.60" fill="url(#cC)" stroke="#d6d6f0" stroke-width="0.45"/><circle cx="53.03" cy="388.87" r="2.95" fill="url(#cC)" stroke="#d6d6f0" stroke-width="0.45"/><circle cx="58.80" cy="388.30" r="3.28" fill="url(#cC)" stroke="#d6d6f0" stroke-width="0.45"/><circle cx="63.41" cy="390.03" r="2.95" fill="url(#cC)" stroke="#d6d6f0" stroke-width="0.45"/><circle cx="59.95" cy="392.91" r="2.95" fill="url(#cC)" stroke="#d6d6f0" stroke-width="0.45"/><circle cx="68.03" cy="389.45" r="2.95" fill="url(#cC)" stroke="#d6d6f0" stroke-width="0.45"/><circle cx="68.60" cy="392.91" r="3.28" fill="url(#cC)" stroke="#d6d6f0" stroke-width="0.45"/><circle cx="72.06" cy="392.91" r="2.95" fill="url(#cC)" stroke="#d6d6f0" stroke-width="0.45"/><circle cx="76.10" cy="387.14" r="3.28" fill="url(#cC)" stroke="#d6d6f0" stroke-width="0.45"/><circle cx="80.14" cy="389.45" r="2.95" fill="url(#cC)" stroke="#d6d6f0" stroke-width="0.45"/><circle cx="84.75" cy="386.57" r="3.28" fill="url(#cC)" stroke="#d6d6f0" stroke-width="0.45"/><circle cx="89.36" cy="390.60" r="3.28" fill="url(#cC)" stroke="#d6d6f0" stroke-width="0.45"/><circle cx="81.29" cy="392.91" r="2.95" fill="url(#cC)" stroke="#d6d6f0" stroke-width="0.45"/><circle cx="75.52" cy="391.76" r="2.95" fill="url(#cC)" stroke="#d6d6f0" stroke-width="0.45"/><circle cx="85.90" cy="391.76" r="2.95" fill="url(#cC)" stroke="#d6d6f0" stroke-width="0.45"/><circle cx="89.36" cy="386.57" r="2.62" fill="url(#cC)" stroke="#d6d6f0" stroke-width="0.45"/><circle cx="36.88" cy="375.03" r="2.62" fill="url(#cC)" stroke="#d6d6f0" stroke-width="0.45"/></g>
<rect x="35.2" y="357.7" width="57.599999999999994" height="42.69999999999999" fill="none" stroke="#151515" stroke-width="1.4"/>
<line x1="76.70" y1="397.00" x2="88.80" y2="397.00" stroke="#111" stroke-width="1.7"/>
<clipPath id="c100357"><rect x="100.4" y="357.7" width="56.29999999999998" height="42.69999999999999"/></clipPath>
<g clip-path="url(#c100357)"><rect x="100.4" y="357.7" width="56.29999999999998" height="42.69999999999999" fill="#c4b2bc"/><rect x="100" y="357" width="57" height="44" fill="#c4b3bc"/><ellipse cx="124" cy="374" rx="9" ry="7" fill="#cfc1c3"/><ellipse cx="104" cy="385" rx="6" ry="12" fill="#5a46a0" opacity="0.75"/><ellipse cx="108" cy="365" rx="9" ry="7" fill="#6a54a8" opacity="0.75"/><ellipse cx="151" cy="392" rx="7" ry="6" fill="#4e40a0" opacity="0.9"/><ellipse cx="122" cy="396" rx="9" ry="5" fill="#6a54a8" opacity="0.6"/><ellipse cx="150" cy="364" rx="6" ry="6" fill="#6a54a8" opacity="0.45"/><circle cx="103.55" cy="364.16" r="3.38" fill="url(#cD)" stroke="none" stroke-width="0.45"/><circle cx="109.91" cy="362.93" r="3.17" fill="url(#cD)" stroke="none" stroke-width="0.45"/><circle cx="114.71" cy="364.67" r="3.20" fill="url(#cD)" stroke="none" stroke-width="0.45"/><circle cx="120.74" cy="363.51" r="2.99" fill="url(#cD)" stroke="none" stroke-width="0.45"/><circle cx="125.54" cy="363.35" r="3.23" fill="url(#cD)" stroke="none" stroke-width="0.45"/><circle cx="131.24" cy="362.43" r="3.40" fill="url(#cD)" stroke="none" stroke-width="0.45"/><circle cx="137.85" cy="361.93" r="2.90" fill="url(#cD)" stroke="none" stroke-width="0.45"/><circle cx="142.73" cy="362.96" r="2.84" fill="url(#cD)" stroke="none" stroke-width="0.45"/><circle cx="148.17" cy="361.41" r="2.82" fill="url(#cD)" stroke="none" stroke-width="0.45"/><circle cx="153.74" cy="363.41" r="3.33" fill="url(#cD)" stroke="none" stroke-width="0.45"/><circle cx="104.79" cy="369.46" r="3.11" fill="url(#cD)" stroke="none" stroke-width="0.45"/><circle cx="110.76" cy="369.78" r="2.98" fill="url(#cD)" stroke="none" stroke-width="0.45"/><circle cx="130.83" cy="368.22" r="3.33" fill="url(#cD)" stroke="none" stroke-width="0.45"/><circle cx="136.20" cy="369.01" r="2.95" fill="url(#cD)" stroke="none" stroke-width="0.45"/><circle cx="141.38" cy="369.25" r="3.28" fill="url(#cD)" stroke="none" stroke-width="0.45"/><circle cx="147.31" cy="368.59" r="3.04" fill="url(#cD)" stroke="none" stroke-width="0.45"/><circle cx="153.84" cy="370.90" r="2.80" fill="url(#cD)" stroke="none" stroke-width="0.45"/><circle cx="102.06" cy="375.60" r="3.10" fill="url(#cD)" stroke="none" stroke-width="0.45"/><circle cx="110.05" cy="375.47" r="2.85" fill="url(#cD)" stroke="none" stroke-width="0.45"/><circle cx="128.01" cy="375.42" r="2.97" fill="url(#cD)" stroke="none" stroke-width="0.45"/><circle cx="133.03" cy="374.22" r="3.40" fill="url(#cD)" stroke="none" stroke-width="0.45"/><circle cx="140.30" cy="375.08" r="2.96" fill="url(#cD)" stroke="none" stroke-width="0.45"/><circle cx="144.58" cy="373.85" r="3.30" fill="url(#cD)" stroke="none" stroke-width="0.45"/><circle cx="151.03" cy="376.27" r="3.08" fill="url(#cD)" stroke="none" stroke-width="0.45"/><circle cx="105.49" cy="381.70" r="2.88" fill="url(#cD)" stroke="none" stroke-width="0.45"/><circle cx="113.04" cy="381.42" r="3.06" fill="url(#cD)" stroke="none" stroke-width="0.45"/><circle cx="130.90" cy="380.48" r="3.41" fill="url(#cD)" stroke="none" stroke-width="0.45"/><circle cx="137.48" cy="381.68" r="3.35" fill="url(#cD)" stroke="none" stroke-width="0.45"/><circle cx="141.85" cy="379.50" r="3.33" fill="url(#cD)" stroke="none" stroke-width="0.45"/><circle cx="148.79" cy="380.82" r="3.42" fill="url(#cD)" stroke="none" stroke-width="0.45"/><circle cx="153.97" cy="380.46" r="3.28" fill="url(#cD)" stroke="none" stroke-width="0.45"/><circle cx="103.38" cy="386.86" r="2.85" fill="url(#cD)" stroke="none" stroke-width="0.45"/><circle cx="109.97" cy="387.26" r="2.95" fill="url(#cD)" stroke="none" stroke-width="0.45"/><circle cx="117.59" cy="385.81" r="3.09" fill="url(#cD)" stroke="none" stroke-width="0.45"/><circle cx="124.43" cy="387.70" r="3.16" fill="url(#cD)" stroke="none" stroke-width="0.45"/><circle cx="130.65" cy="385.55" r="2.90" fill="url(#cD)" stroke="none" stroke-width="0.45"/><circle cx="136.47" cy="388.74" r="2.96" fill="url(#cD)" stroke="none" stroke-width="0.45"/><circle cx="149.32" cy="386.32" r="3.39" fill="url(#cD)" stroke="none" stroke-width="0.45"/><circle cx="155.10" cy="388.92" r="3.35" fill="url(#cD)" stroke="none" stroke-width="0.45"/><circle cx="102.60" cy="392.80" r="2.87" fill="url(#cD)" stroke="none" stroke-width="0.45"/><circle cx="107.59" cy="394.70" r="2.95" fill="url(#cD)" stroke="none" stroke-width="0.45"/><circle cx="115.43" cy="391.42" r="3.32" fill="url(#cD)" stroke="none" stroke-width="0.45"/><circle cx="121.05" cy="392.62" r="2.91" fill="url(#cD)" stroke="none" stroke-width="0.45"/><circle cx="127.56" cy="393.47" r="2.95" fill="url(#cD)" stroke="none" stroke-width="0.45"/><circle cx="132.53" cy="395.70" r="3.19" fill="url(#cD)" stroke="none" stroke-width="0.45"/><circle cx="139.06" cy="393.49" r="2.93" fill="url(#cD)" stroke="none" stroke-width="0.45"/><circle cx="145.62" cy="391.44" r="3.08" fill="url(#cD)" stroke="none" stroke-width="0.45"/><circle cx="151.45" cy="392.46" r="3.03" fill="url(#cD)" stroke="none" stroke-width="0.45"/><circle cx="106.02" cy="398.17" r="3.03" fill="url(#cD)" stroke="none" stroke-width="0.45"/><circle cx="114.54" cy="398.76" r="3.21" fill="url(#cD)" stroke="none" stroke-width="0.45"/><circle cx="122.33" cy="398.79" r="2.89" fill="url(#cD)" stroke="none" stroke-width="0.45"/><circle cx="128.34" cy="396.86" r="3.37" fill="url(#cD)" stroke="none" stroke-width="0.45"/><circle cx="137.34" cy="399.32" r="2.82" fill="url(#cD)" stroke="none" stroke-width="0.45"/><circle cx="145.32" cy="398.07" r="3.26" fill="url(#cD)" stroke="none" stroke-width="0.45"/><circle cx="152.96" cy="399.37" r="2.85" fill="url(#cD)" stroke="none" stroke-width="0.45"/></g>
<rect x="100.4" y="357.7" width="56.29999999999998" height="42.69999999999999" fill="none" stroke="#151515" stroke-width="1.4"/>
<line x1="141.00" y1="397.00" x2="154.40" y2="397.00" stroke="#111" stroke-width="1.7"/>
<text x="174.90" y="296.00" font-size="11.3" font-weight="bold" fill="#000" stroke="#000" stroke-width="0.2">G</text>
<line x1="207.50" y1="336.50" x2="207.50" y2="394.30" stroke="#111" stroke-width="1.1"/>
<line x1="207.00" y1="393.80" x2="262.50" y2="393.80" stroke="#111" stroke-width="1.1"/>
<line x1="204.30" y1="393.80" x2="207.50" y2="393.80" stroke="#111" stroke-width="0.9"/>
<text x="201.90" y="396.60" font-size="7.9" text-anchor="end" fill="#1a1a1a" stroke="#1a1a1a" stroke-width="0.15">0</text>
<line x1="204.30" y1="365.93" x2="207.50" y2="365.93" stroke="#111" stroke-width="0.9"/>
<text x="201.90" y="368.73" font-size="7.9" text-anchor="end" fill="#1a1a1a" stroke="#1a1a1a" stroke-width="0.15">50</text>
<line x1="204.30" y1="338.05" x2="207.50" y2="338.05" stroke="#111" stroke-width="0.9"/>
<text x="201.90" y="340.85" font-size="7.9" text-anchor="end" fill="#1a1a1a" stroke="#1a1a1a" stroke-width="0.15">100</text>
<rect x="211.80" y="354.78" width="18.70" height="39.02" fill="#6aab42" stroke="#333" stroke-width="0.4"/>
<rect x="211.80" y="347.53" width="18.70" height="7.25" fill="#b00b32" stroke="#333" stroke-width="0.4"/>
<rect x="211.80" y="339.17" width="18.70" height="8.36" fill="#2d4a87" stroke="#333" stroke-width="0.4"/>
<line x1="221.15" y1="336.50" x2="221.15" y2="339.17" stroke="#222" stroke-width="0.9"/>
<line x1="218.95" y1="336.50" x2="223.35" y2="336.50" stroke="#222" stroke-width="1.0"/>
<line x1="217.65" y1="348.13" x2="224.65" y2="348.13" stroke="#181818" stroke-width="1.3"/>
<line x1="217.65" y1="355.28" x2="224.65" y2="355.28" stroke="#181818" stroke-width="1.2"/>
<line x1="221.15" y1="346.73" x2="221.15" y2="349.33" stroke="#181818" stroke-width="1.0"/>
<rect x="239.50" y="347.53" width="18.50" height="46.27" fill="#6aab42" stroke="#333" stroke-width="0.4"/>
<rect x="239.50" y="342.51" width="18.50" height="5.02" fill="#b00b32" stroke="#333" stroke-width="0.4"/>
<rect x="239.50" y="338.05" width="18.50" height="4.46" fill="#2d4a87" stroke="#333" stroke-width="0.4"/>
<line x1="248.75" y1="335.50" x2="248.75" y2="338.05" stroke="#222" stroke-width="0.9"/>
<line x1="246.55" y1="335.50" x2="250.95" y2="335.50" stroke="#222" stroke-width="1.0"/>
<line x1="245.25" y1="343.11" x2="252.25" y2="343.11" stroke="#181818" stroke-width="1.3"/>
<line x1="245.25" y1="348.03" x2="252.25" y2="348.03" stroke="#181818" stroke-width="1.2"/>
<line x1="248.75" y1="341.71" x2="248.75" y2="344.31" stroke="#181818" stroke-width="1.0"/>
<line x1="221.20" y1="393.80" x2="221.20" y2="396.80" stroke="#111" stroke-width="0.9"/>
<line x1="248.80" y1="393.80" x2="248.80" y2="396.80" stroke="#111" stroke-width="0.9"/>
<text x="225.80" y="403.10" font-size="8.3" text-anchor="end" fill="#1a1a1a" stroke="#1a1a1a" stroke-width="0.15" transform="rotate(-45 225.80 403.10)">Control</text>
<text x="253.40" y="403.10" font-size="8.3" text-anchor="end" fill="#1a1a1a" stroke="#1a1a1a" stroke-width="0.15" transform="rotate(-45 253.40 403.10)">rmS100A9</text>
<rect x="218.90" y="303.90" width="6.60" height="3.80" fill="#6aab42"/>
<text x="228.60" y="308.20" font-size="7.8" fill="#1a1a1a" stroke="#1a1a1a" stroke-width="0.15">G0/G1</text>
<rect x="218.90" y="312.00" width="6.60" height="3.80" fill="#b00b32"/>
<text x="228.60" y="316.00" font-size="7.8" fill="#1a1a1a" stroke="#1a1a1a" stroke-width="0.15">S</text>
<rect x="218.90" y="320.60" width="6.60" height="3.80" fill="#2d4a87"/>
<text x="228.60" y="324.80" font-size="7.8" fill="#1a1a1a" stroke="#1a1a1a" stroke-width="0.15">G2/M</text>
<text x="183.00" y="363.90" font-size="10.3" text-anchor="middle" fill="#1a1a1a" stroke="#1a1a1a" stroke-width="0.3" textLength="82" lengthAdjust="spacingAndGlyphs" transform="rotate(-90 183.00 363.90)">Positive BM cells (%)</text>
<text x="279.80" y="295.20" font-size="11.3" font-weight="bold" fill="#000" stroke="#000" stroke-width="0.2">H</text>
<text x="356.30" y="309.00" font-size="7.8" text-anchor="middle" font-weight="bold" fill="#1a1a1a">D15</text>
<text x="356.40" y="318.80" font-size="7.8" text-anchor="middle" font-weight="bold" fill="#1a1a1a">(~5% AML cells</text>
<text x="356.30" y="328.80" font-size="7.8" text-anchor="middle" font-weight="bold" fill="#1a1a1a">in blood)</text>
<line x1="356.70" y1="332.50" x2="356.70" y2="366.60" stroke="#111" stroke-width="1.1"/>
<path d="M356.70,371.30 L354.60,366.10 L358.80,366.10 Z" fill="#111"/>
<text x="308.80" y="340.20" font-size="7.8" text-anchor="middle" font-weight="bold" fill="#1a1a1a">H9M1</text>
<text x="308.30" y="349.60" font-size="7.8" text-anchor="middle" font-weight="bold" fill="#1a1a1a">AML cells</text>
<g transform="translate(289.2,350.8) scale(1.0)"><line x1="5.6" y1="5.8" x2="13.6" y2="14.8" stroke="#7a8e9c" stroke-width="1.9" stroke-linecap="round"/><line x1="13.2" y1="14.6" x2="15.6" y2="17.2" stroke="#8a98a4" stroke-width="0.7"/><circle cx="14.6" cy="5.4" r="1.2" fill="#8e8e8e"/><circle cx="19.2" cy="4.4" r="0.9" fill="#8a8a8a"/><circle cx="20.4" cy="7.7" r="1.0" fill="#8a8a8a"/><circle cx="15.2" cy="8.3" r="1.1" fill="#9a9a9a"/><path d="M16.9,17.2 C18.5,16.2 20,16.1 21.5,16.3 C24.5,16.8 27,18.5 29,20.7 C31.5,22.5 33.6,24.5 34.2,26.4 C34.5,28 33.4,29.8 31.9,30.5 C30,31.8 28,32.3 26.2,32.2 C23,32.3 19.5,31.8 16.9,31 C15.2,30.2 14.6,28.5 14.9,26.4 C15.1,23 15.5,19.5 16.9,17.2 Z" fill="#fff" stroke="#555" stroke-width="0.75"/><path d="M27,18.9 C29.5,20.3 32.5,22.8 34.2,26.4" fill="none" stroke="#444" stroke-width="0.9"/><path d="M16,29 C18,27.5 21,28.5 22,30.5" fill="none" stroke="#666" stroke-width="0.6"/><ellipse cx="24.7" cy="24.4" rx="2.5" ry="1.6" transform="rotate(30 24.7 24.4)" fill="#8a8a8a" stroke="#444" stroke-width="0.7"/><circle cx="30.2" cy="27.1" r="1.0" fill="#222"/></g>
<line x1="363.80" y1="367.50" x2="472.50" y2="367.50" stroke="#111" stroke-width="1.1"/>
<line x1="327.00" y1="377.40" x2="476.30" y2="377.40" stroke="#111" stroke-width="1.2"/>
<path d="M481.00,377.40 L475.80,375.30 L475.80,379.50 Z" fill="#111"/>
<line x1="361.20" y1="384.50" x2="386.30" y2="384.50" stroke="#3a2c50" stroke-width="1.1"/>
<text x="418.20" y="353.80" font-size="7.6" text-anchor="middle" font-weight="bold" fill="#1a1a1a">Protocol A:</text>
<text x="418.20" y="363.30" font-size="7.6" text-anchor="middle" font-weight="bold" fill="#1a1a1a">rmS100A9 or anti-S100A8</text>
<text x="406.90" y="386.70" font-size="7.6" text-anchor="middle" font-weight="bold" fill="#5b3c86">(5 days)</text>
<text x="407.00" y="396.40" font-size="7.6" text-anchor="middle" font-weight="bold" fill="#5b3c86">Protocol B:</text>
<text x="406.90" y="405.40" font-size="7.6" text-anchor="middle" font-weight="bold" fill="#5b3c86">Doxorubicin + Cytarabine : D-C</text>
<g transform="translate(482.5,364)"><path d="M6.9,5.8 C8,4.5 9.5,4.2 10.4,4.3 C13.5,4.6 16.5,6.5 19,8.7 C21.5,10.5 23.5,12 24.3,13.9 C24.6,15.3 24,16.6 23.1,17.3 C21.5,18.8 19.5,19.6 17.3,19.7 C14.5,19.9 11,19.7 8.7,19.1 C6.5,18.5 5.2,17 4.9,15 C4.6,12.5 5,9.5 6.9,5.8 Z" fill="#d6cfb2" stroke="#5a5a50" stroke-width="0.8"/><path d="M6,16.5 C8,15.5 11,16.5 12.5,19.3 L8.7,19.1 C7,18.6 6.3,17.6 6,16.5 Z" fill="#f2efe6" stroke="#777" stroke-width="0.5"/><path d="M17,7.2 C19.5,8.6 22.5,11 24.3,13.9" fill="none" stroke="#333" stroke-width="1.1"/><ellipse cx="15.3" cy="12.4" rx="2.6" ry="1.4" transform="rotate(25 15.3 12.4)" fill="#f3efe3" stroke="#3a3a34" stroke-width="0.8"/><circle cx="20.5" cy="15.3" r="1.0" fill="#1a1a1a"/></g>
<text x="496.00" y="393.80" font-size="7.6" text-anchor="middle" fill="#1a1a1a" stroke="#1a1a1a" stroke-width="0.15">Sacrificed</text>
<text x="7.7" y="465.8" font-size="11.3" font-weight="bold" fill="#000" stroke="#000" stroke-width="0.25">I</text>
<line x1="47.50" y1="486.80" x2="47.50" y2="555.10" stroke="#111" stroke-width="1.1"/>
<line x1="47.00" y1="554.60" x2="145.75" y2="554.60" stroke="#111" stroke-width="1.1"/>
<line x1="44.30" y1="554.60" x2="47.50" y2="554.60" stroke="#111" stroke-width="0.9"/>
<text x="40.60" y="557.40" font-size="7.9" text-anchor="end" fill="#1a1a1a" stroke="#1a1a1a" stroke-width="0.15">0</text>
<line x1="44.30" y1="537.80" x2="47.50" y2="537.80" stroke="#111" stroke-width="0.9"/>
<text x="40.60" y="540.60" font-size="7.9" text-anchor="end" fill="#1a1a1a" stroke="#1a1a1a" stroke-width="0.15">25</text>
<line x1="44.30" y1="521.00" x2="47.50" y2="521.00" stroke="#111" stroke-width="0.9"/>
<text x="40.60" y="523.80" font-size="7.9" text-anchor="end" fill="#1a1a1a" stroke="#1a1a1a" stroke-width="0.15">50</text>
<line x1="44.30" y1="504.20" x2="47.50" y2="504.20" stroke="#111" stroke-width="0.9"/>
<text x="40.60" y="507.00" font-size="7.9" text-anchor="end" fill="#1a1a1a" stroke="#1a1a1a" stroke-width="0.15">75</text>
<line x1="44.30" y1="487.40" x2="47.50" y2="487.40" stroke="#111" stroke-width="0.9"/>
<text x="40.60" y="490.20" font-size="7.9" text-anchor="end" fill="#1a1a1a" stroke="#1a1a1a" stroke-width="0.15">100</text>
<line x1="47.50" y1="554.60" x2="47.50" y2="557.60" stroke="#111" stroke-width="0.9"/>
<text x="47.50" y="568.00" font-size="8.2" text-anchor="middle" fill="#1a1a1a" stroke="#1a1a1a" stroke-width="0.15">15</text>
<line x1="61.45" y1="554.60" x2="61.45" y2="557.60" stroke="#111" stroke-width="0.9"/>
<text x="61.45" y="568.00" font-size="8.2" text-anchor="middle" fill="#1a1a1a" stroke="#1a1a1a" stroke-width="0.15">20</text>
<line x1="75.40" y1="554.60" x2="75.40" y2="557.60" stroke="#111" stroke-width="0.9"/>
<text x="75.40" y="568.00" font-size="8.2" text-anchor="middle" fill="#1a1a1a" stroke="#1a1a1a" stroke-width="0.15">25</text>
<line x1="89.35" y1="554.60" x2="89.35" y2="557.60" stroke="#111" stroke-width="0.9"/>
<text x="89.35" y="568.00" font-size="8.2" text-anchor="middle" fill="#1a1a1a" stroke="#1a1a1a" stroke-width="0.15">30</text>
<line x1="103.30" y1="554.60" x2="103.30" y2="557.60" stroke="#111" stroke-width="0.9"/>
<text x="103.30" y="568.00" font-size="8.2" text-anchor="middle" fill="#1a1a1a" stroke="#1a1a1a" stroke-width="0.15">35</text>
<line x1="117.25" y1="554.60" x2="117.25" y2="557.60" stroke="#111" stroke-width="0.9"/>
<text x="117.25" y="568.00" font-size="8.2" text-anchor="middle" fill="#1a1a1a" stroke="#1a1a1a" stroke-width="0.15">40</text>
<line x1="131.20" y1="554.60" x2="131.20" y2="557.60" stroke="#111" stroke-width="0.9"/>
<text x="131.20" y="568.00" font-size="8.2" text-anchor="middle" fill="#1a1a1a" stroke="#1a1a1a" stroke-width="0.15">45</text>
<line x1="145.15" y1="554.60" x2="145.15" y2="557.60" stroke="#111" stroke-width="0.9"/>
<text x="145.15" y="568.00" font-size="8.2" text-anchor="middle" fill="#1a1a1a" stroke="#1a1a1a" stroke-width="0.15">50</text>
<polyline points="47.50,487.40 78.19,487.40 78.19,493.45 90.19,493.45 90.19,505.54 92.70,505.54 92.70,530.41 98.56,530.41 98.56,548.55 104.42,548.55 104.42,554.60" fill="none" stroke="#b00b32" stroke-width="1.3" stroke-linejoin="miter"/>
<circle cx="78.19" cy="493.45" r="1.45" fill="#b00b32"/>
<circle cx="90.19" cy="505.54" r="1.45" fill="#b00b32"/>
<circle cx="92.70" cy="530.41" r="1.45" fill="#b00b32"/>
<circle cx="98.56" cy="548.55" r="1.45" fill="#b00b32"/>
<polyline points="47.50,487.40 93.81,487.40 93.81,494.79 97.72,494.79 97.72,502.18 103.86,502.18 103.86,509.58 109.72,509.58 109.72,516.97 121.16,516.97 121.16,532.42 132.04,532.42 132.04,554.60" fill="none" stroke="#6aab42" stroke-width="1.3" stroke-linejoin="miter"/>
<circle cx="93.81" cy="494.79" r="1.45" fill="#6aab42"/>
<circle cx="97.72" cy="502.18" r="1.45" fill="#6aab42"/>
<circle cx="103.86" cy="509.58" r="1.45" fill="#6aab42"/>
<circle cx="109.72" cy="516.97" r="1.45" fill="#6aab42"/>
<circle cx="121.16" cy="532.42" r="1.45" fill="#6aab42"/>
<polyline points="47.50,487.40 95.21,487.40 95.21,498.82 103.58,498.82 103.58,509.58 115.30,509.58 115.30,521.00 121.16,521.00 121.16,543.18 131.20,543.18 131.20,554.60" fill="none" stroke="#2d4a87" stroke-width="1.3" stroke-linejoin="miter"/>
<circle cx="95.21" cy="498.82" r="1.45" fill="#2d4a87"/>
<circle cx="103.58" cy="509.58" r="1.45" fill="#2d4a87"/>
<circle cx="115.30" cy="521.00" r="1.45" fill="#2d4a87"/>
<circle cx="121.16" cy="543.18" r="1.45" fill="#2d4a87"/>
<polyline points="47.50,487.40 123.67,487.40 123.67,509.58 127.02,509.58 127.02,521.00 128.97,521.00 128.97,554.60" fill="none" stroke="#4a2a6a" stroke-width="1.3" stroke-linejoin="miter"/>
<circle cx="123.67" cy="509.58" r="1.45" fill="#4a2a6a"/>
<circle cx="127.02" cy="521.00" r="1.45" fill="#4a2a6a"/>
<text x="48.00" y="582.40" font-size="9.6" fill="#1a1a1a" stroke="#1a1a1a" stroke-width="0.3" textLength="99.9" lengthAdjust="spacingAndGlyphs">Days post-transplantation</text>
<text x="23.60" y="545.20" font-size="10.6" fill="#1a1a1a" stroke="#1a1a1a" stroke-width="0.3" textLength="48.7" lengthAdjust="spacingAndGlyphs" transform="rotate(-90 23.60 545.20)">Survival (%)</text>
<line x1="45.80" y1="452.00" x2="55.00" y2="452.00" stroke="#b00b32" stroke-width="1.6"/>
<circle cx="50.40" cy="452.00" r="1.6" fill="#b00b32"/>
<text x="57.40" y="454.60" font-size="7.7" fill="#1a1a1a" stroke="#1a1a1a" stroke-width="0.15">Control <tspan font-style="italic">(n = 11)</tspan></text>
<line x1="45.80" y1="460.20" x2="55.00" y2="460.20" stroke="#6aab42" stroke-width="1.6"/>
<circle cx="50.40" cy="460.20" r="1.6" fill="#6aab42"/>
<text x="57.40" y="462.80" font-size="7.7" fill="#1a1a1a" stroke="#1a1a1a" stroke-width="0.15">rmS100A9 <tspan font-style="italic">(n = 9)</tspan></text>
<line x1="45.80" y1="468.80" x2="55.00" y2="468.80" stroke="#2d4a87" stroke-width="1.6"/>
<circle cx="50.40" cy="468.80" r="1.6" fill="#2d4a87"/>
<text x="57.40" y="471.40" font-size="7.7" fill="#1a1a1a" stroke="#1a1a1a" stroke-width="0.15">anti-S100A8 <tspan font-style="italic">(n = 6)</tspan></text>
<line x1="45.80" y1="477.40" x2="55.00" y2="477.40" stroke="#4a2a6a" stroke-width="1.6"/>
<circle cx="50.40" cy="477.40" r="1.6" fill="#4a2a6a"/>
<text x="57.40" y="480.00" font-size="7.7" fill="#1a1a1a" stroke="#1a1a1a" stroke-width="0.15">D-C <tspan font-style="italic">(n = 6)</tspan></text>
<polyline points="127.30,466.00 129.40,466.00 129.40,478.60 127.30,478.60" fill="none" stroke="#111" stroke-width="1.25" stroke-linejoin="miter"/>
<text x="130.20" y="473.60" font-size="7.8" fill="#1a1a1a" stroke="#1a1a1a" stroke-width="0.4">ns</text>
<polyline points="139.00,461.00 141.00,461.00 141.00,480.40 139.00,480.40" fill="none" stroke="#111" stroke-width="1.25" stroke-linejoin="miter"/>
<text x="142.60" y="473.60" font-size="7.8" fill="#1a1a1a" stroke="#1a1a1a" stroke-width="0.4">ns</text>
<text x="166.80" y="466.40" font-size="11.3" font-weight="bold" fill="#000" stroke="#000" stroke-width="0.2">J</text>
<line x1="210.80" y1="486.50" x2="210.80" y2="555.20" stroke="#111" stroke-width="1.1"/>
<line x1="210.30" y1="554.70" x2="311.00" y2="554.70" stroke="#111" stroke-width="1.1"/>
<line x1="207.60" y1="554.70" x2="210.80" y2="554.70" stroke="#111" stroke-width="0.9"/>
<text x="205.20" y="557.50" font-size="7.9" text-anchor="end" fill="#1a1a1a" stroke="#1a1a1a" stroke-width="0.15">90</text>
<line x1="207.60" y1="537.88" x2="210.80" y2="537.88" stroke="#111" stroke-width="0.9"/>
<text x="205.20" y="540.67" font-size="7.9" text-anchor="end" fill="#1a1a1a" stroke="#1a1a1a" stroke-width="0.15">95</text>
<line x1="207.60" y1="521.05" x2="210.80" y2="521.05" stroke="#111" stroke-width="0.9"/>
<text x="205.20" y="523.85" font-size="7.9" text-anchor="end" fill="#1a1a1a" stroke="#1a1a1a" stroke-width="0.15">100</text>
<line x1="207.60" y1="504.23" x2="210.80" y2="504.23" stroke="#111" stroke-width="0.9"/>
<text x="205.20" y="507.03" font-size="7.9" text-anchor="end" fill="#1a1a1a" stroke="#1a1a1a" stroke-width="0.15">105</text>
<line x1="207.60" y1="487.40" x2="210.80" y2="487.40" stroke="#111" stroke-width="0.9"/>
<text x="205.20" y="490.20" font-size="7.9" text-anchor="end" fill="#1a1a1a" stroke="#1a1a1a" stroke-width="0.15">110</text>
<line x1="210.80" y1="554.70" x2="210.80" y2="557.70" stroke="#111" stroke-width="0.9"/>
<line x1="256.30" y1="554.70" x2="256.30" y2="557.70" stroke="#111" stroke-width="0.9"/>
<line x1="301.80" y1="554.70" x2="301.80" y2="557.70" stroke="#111" stroke-width="0.9"/>
<text x="210.80" y="567.60" font-size="7.9" text-anchor="middle" fill="#1a1a1a" stroke="#1a1a1a" stroke-width="0.15">15</text>
<text x="256.30" y="567.60" font-size="7.9" text-anchor="middle" fill="#1a1a1a" stroke="#1a1a1a" stroke-width="0.15">20</text>
<text x="301.80" y="567.60" font-size="7.9" text-anchor="middle" fill="#1a1a1a" stroke="#1a1a1a" stroke-width="0.15">25</text>
<text x="211.50" y="582.60" font-size="9.6" fill="#1a1a1a" stroke="#1a1a1a" stroke-width="0.3" textLength="99.5" lengthAdjust="spacingAndGlyphs">Days post-transplantation</text>
<text x="186.00" y="541.50" font-size="10.4" fill="#1a1a1a" stroke="#1a1a1a" stroke-width="0.3" textLength="44.3" lengthAdjust="spacingAndGlyphs" transform="rotate(-90 186.00 541.50)">Weight (%)</text>
<polyline points="210.80,521.05 256.30,506.80 301.80,510.90" fill="none" stroke="#6aab42" stroke-width="1.7" stroke-linejoin="miter"/>
<polyline points="210.80,521.05 256.30,511.30 301.80,510.90" fill="none" stroke="#2d4a87" stroke-width="1.7" stroke-linejoin="miter"/>
<polyline points="210.80,521.05 256.30,535.30 301.80,506.50" fill="none" stroke="#4a2a6a" stroke-width="1.7" stroke-linejoin="miter"/>
<line x1="256.30" y1="502.50" x2="256.30" y2="509.00" stroke="#6aab42" stroke-width="0.9"/>
<line x1="254.50" y1="502.50" x2="258.10" y2="502.50" stroke="#6aab42" stroke-width="0.9"/>
<line x1="254.50" y1="509.00" x2="258.10" y2="509.00" stroke="#6aab42" stroke-width="0.9"/>
<line x1="256.30" y1="509.50" x2="256.30" y2="513.00" stroke="#2d4a87" stroke-width="0.9"/>
<line x1="254.50" y1="509.50" x2="258.10" y2="509.50" stroke="#2d4a87" stroke-width="0.9"/>
<line x1="254.50" y1="513.00" x2="258.10" y2="513.00" stroke="#2d4a87" stroke-width="0.9"/>
<line x1="256.30" y1="530.20" x2="256.30" y2="541.30" stroke="#4a2a6a" stroke-width="0.9"/>
<line x1="254.50" y1="530.20" x2="258.10" y2="530.20" stroke="#4a2a6a" stroke-width="0.9"/>
<line x1="254.50" y1="541.30" x2="258.10" y2="541.30" stroke="#4a2a6a" stroke-width="0.9"/>
<line x1="301.80" y1="502.20" x2="301.80" y2="520.20" stroke="#2d4a87" stroke-width="0.9"/>
<line x1="300.00" y1="502.20" x2="303.60" y2="502.20" stroke="#2d4a87" stroke-width="0.9"/>
<line x1="300.00" y1="520.20" x2="303.60" y2="520.20" stroke="#2d4a87" stroke-width="0.9"/>
<line x1="301.80" y1="503.50" x2="301.80" y2="510.00" stroke="#4a2a6a" stroke-width="0.9"/>
<line x1="300.00" y1="503.50" x2="303.60" y2="503.50" stroke="#4a2a6a" stroke-width="0.9"/>
<line x1="300.00" y1="510.00" x2="303.60" y2="510.00" stroke="#4a2a6a" stroke-width="0.9"/>
<circle cx="256.30" cy="506.80" r="1.6" fill="#6aab42"/>
<circle cx="256.30" cy="511.30" r="1.6" fill="#2d4a87"/>
<circle cx="256.30" cy="535.30" r="1.6" fill="#4a2a6a"/>
<circle cx="301.80" cy="510.90" r="1.6" fill="#2d4a87"/>
<circle cx="301.80" cy="506.50" r="1.6" fill="#4a2a6a"/>
<circle cx="210.80" cy="521.05" r="1.6" fill="#4a2a6a"/>
<circle cx="251.80" cy="524.30" r="1.1" fill="#111"/>
<circle cx="255.70" cy="524.30" r="1.1" fill="#111"/>
<circle cx="259.60" cy="524.30" r="1.1" fill="#111"/>
<line x1="255.20" y1="475.60" x2="264.90" y2="475.60" stroke="#6aab42" stroke-width="1.6"/>
<circle cx="260.05" cy="475.60" r="1.6" fill="#6aab42"/>
<text x="266.40" y="478.20" font-size="7.6" fill="#1a1a1a" stroke="#1a1a1a" stroke-width="0.15">rmS100A9</text>
<line x1="255.20" y1="484.20" x2="264.90" y2="484.20" stroke="#2d4a87" stroke-width="1.6"/>
<circle cx="260.05" cy="484.20" r="1.6" fill="#2d4a87"/>
<text x="266.40" y="486.80" font-size="7.6" fill="#1a1a1a" stroke="#1a1a1a" stroke-width="0.15">anti-S100A8</text>
<line x1="255.20" y1="492.90" x2="264.90" y2="492.90" stroke="#4a2a6a" stroke-width="1.6"/>
<circle cx="260.05" cy="492.90" r="1.6" fill="#4a2a6a"/>
<text x="266.40" y="495.50" font-size="7.6" fill="#1a1a1a" stroke="#1a1a1a" stroke-width="0.15">D-C</text>
<text x="327.60" y="465.40" font-size="11.3" font-weight="bold" fill="#000" stroke="#000" stroke-width="0.2">K</text>
<line x1="385.90" y1="494.50" x2="385.90" y2="555.00" stroke="#111" stroke-width="1.1"/>
<line x1="385.40" y1="554.50" x2="438.60" y2="554.50" stroke="#111" stroke-width="1.1"/>
<line x1="382.70" y1="554.50" x2="385.90" y2="554.50" stroke="#111" stroke-width="0.9"/>
<text x="380.30" y="557.30" font-size="7.9" text-anchor="end" fill="#1a1a1a" stroke="#1a1a1a" stroke-width="0.15">0.0</text>
<line x1="382.70" y1="534.85" x2="385.90" y2="534.85" stroke="#111" stroke-width="0.9"/>
<text x="380.30" y="537.65" font-size="7.9" text-anchor="end" fill="#1a1a1a" stroke="#1a1a1a" stroke-width="0.15">0.5</text>
<line x1="382.70" y1="515.20" x2="385.90" y2="515.20" stroke="#111" stroke-width="0.9"/>
<text x="380.30" y="518.00" font-size="7.9" text-anchor="end" fill="#1a1a1a" stroke="#1a1a1a" stroke-width="0.15">1.0</text>
<line x1="382.70" y1="495.55" x2="385.90" y2="495.55" stroke="#111" stroke-width="0.9"/>
<text x="380.30" y="498.35" font-size="7.9" text-anchor="end" fill="#1a1a1a" stroke="#1a1a1a" stroke-width="0.15">1.5</text>
<rect x="389.10" y="515.30" width="11.40" height="39.20" fill="#b00b32" stroke="#333" stroke-width="0.4"/>
<rect x="406.70" y="503.90" width="11.20" height="50.60" fill="#2d4a87" stroke="#333" stroke-width="0.4"/>
<line x1="412.30" y1="503.00" x2="412.30" y2="503.90" stroke="#222" stroke-width="0.8"/>
<line x1="410.50" y1="503.00" x2="414.10" y2="503.00" stroke="#222" stroke-width="0.8"/>
<rect x="424.00" y="511.90" width="11.20" height="42.60" fill="#6aab42" stroke="#333" stroke-width="0.4"/>
<line x1="429.60" y1="511.30" x2="429.60" y2="511.90" stroke="#222" stroke-width="0.8"/>
<line x1="427.80" y1="511.30" x2="431.40" y2="511.30" stroke="#222" stroke-width="0.8"/>
<line x1="394.80" y1="554.50" x2="394.80" y2="557.50" stroke="#111" stroke-width="0.9"/>
<line x1="412.30" y1="554.50" x2="412.30" y2="557.50" stroke="#111" stroke-width="0.9"/>
<line x1="429.60" y1="554.50" x2="429.60" y2="557.50" stroke="#111" stroke-width="0.9"/>
<line x1="394.70" y1="496.70" x2="412.00" y2="496.70" stroke="#222" stroke-width="1.0"/>
<line x1="394.70" y1="495.50" x2="394.70" y2="497.90" stroke="#111" stroke-width="1.5"/>
<line x1="412.00" y1="495.50" x2="412.00" y2="497.90" stroke="#111" stroke-width="1.5"/>
<circle cx="401.40" cy="492.20" r="1.1" fill="#111"/>
<circle cx="405.30" cy="492.20" r="1.1" fill="#111"/>
<line x1="412.50" y1="489.80" x2="430.60" y2="489.80" stroke="#222" stroke-width="1.0"/>
<line x1="412.50" y1="488.60" x2="412.50" y2="491.00" stroke="#111" stroke-width="1.5"/>
<line x1="430.60" y1="488.60" x2="430.60" y2="491.00" stroke="#111" stroke-width="1.5"/>
<circle cx="421.50" cy="485.50" r="1.1" fill="#111"/>
<text x="399.40" y="564.90" font-size="8.6" text-anchor="end" fill="#1a1a1a" stroke="#1a1a1a" stroke-width="0.15" transform="rotate(-45 399.40 564.90)">Control</text>
<text x="417.10" y="564.90" font-size="8.6" text-anchor="end" fill="#1a1a1a" stroke="#1a1a1a" stroke-width="0.15" transform="rotate(-45 417.10 564.90)">10:0</text>
<text x="434.40" y="564.90" font-size="8.6" text-anchor="end" fill="#1a1a1a" stroke="#1a1a1a" stroke-width="0.15" transform="rotate(-45 434.40 564.90)">10:1</text>
<line x1="402.80" y1="579.50" x2="437.70" y2="579.50" stroke="#111" stroke-width="1.1"/>
<text x="418.10" y="591.40" font-size="8.3" text-anchor="middle" fill="#1a1a1a" stroke="#1a1a1a" stroke-width="0.15">S100A9:S100A8</text>
<g transform="translate(351.1,523.5) rotate(-90) scale(0.966,1)"><text x="0" y="0" font-size="9.0" text-anchor="middle" fill="#1a1a1a" stroke="#1a1a1a" stroke-width="0.3">CD11b<tspan font-size="5.4" dy="-3.2">+</tspan><tspan dy="3.2"> Gr-1</tspan><tspan font-size="5.4" dy="-3.2">+</tspan><tspan dy="3.2"> cells</tspan></text></g>
<text x="363.30" y="526.60" font-size="9.0" text-anchor="middle" fill="#1a1a1a" stroke="#1a1a1a" stroke-width="0.3" textLength="61" lengthAdjust="spacingAndGlyphs" transform="rotate(-90 363.30 526.60)">(fold increase)</text>
<rect x="0" y="0" width="520" height="1.15" fill="#000"/>
<rect x="0" y="0" width="1.3" height="601" fill="#000"/>
<rect x="518.6" y="0" width="1.4" height="601" fill="#000"/>
<rect x="0" y="599.4" width="520" height="1.6" fill="#000"/>
</svg></body></html>
